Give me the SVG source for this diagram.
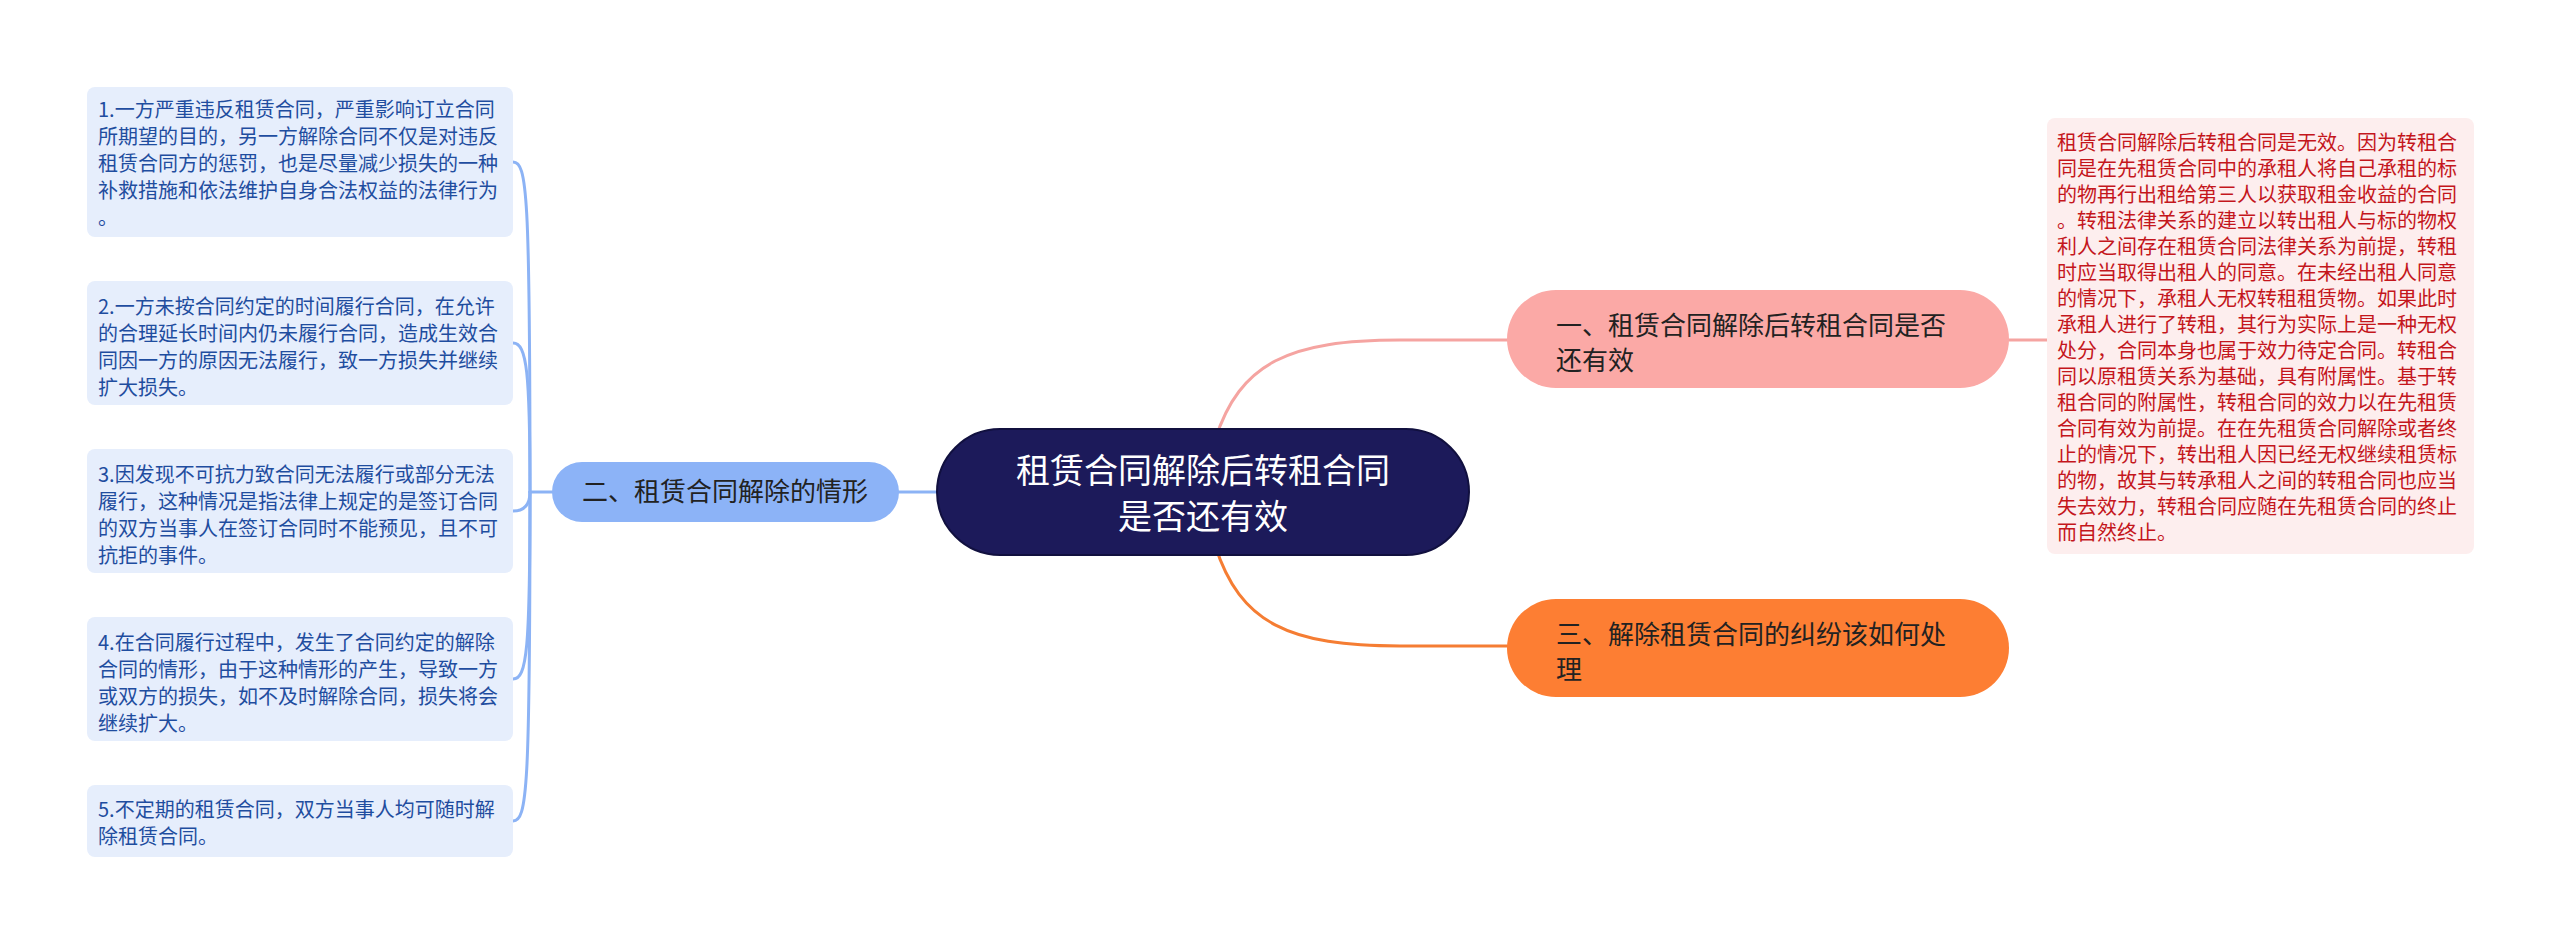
<svg xmlns="http://www.w3.org/2000/svg" width="2560" height="945" viewBox="0 0 2560 945">
<style>
text{font-family:"Noto Sans CJK SC","Noto Sans",sans-serif;}
.leaf rect{fill:#e6eefc;}
.leaf text{font-size:20px;fill:#1f4d9f;}
.detail rect{fill:#fdeeee;}
.detail text{font-size:20px;fill:#c4161c;}
.br text{font-size:26px;fill:#222;}
.root text{font-size:34px;fill:#fff;text-anchor:middle;}
.c{fill:none;stroke-width:3;stroke-linecap:round;}
.cb{stroke:#8cb3f5;}
.cp{stroke:#f5a4a1;}
.co{stroke:#f57d33;}
</style>
<rect width="2560" height="945" fill="#fff"/>
<g id="connectors">
<path class="c cb" d="M898 492 H936"/>
<path class="c cb" d="M530 492 H552"/>
<path class="c cb" d="M513 162 C527 162, 530 192, 530 492"/>
<path class="c cb" d="M513 343 C527 343, 530 373, 530 492"/>
<path class="c cb" d="M513 511 C527 511, 530 501, 530 492"/>
<path class="c cb" d="M513 679 C527 679, 530 649, 530 492"/>
<path class="c cb" d="M513 821 C527 821, 530 791, 530 492"/>
<path class="c cp" d="M1215 440 C1240 362, 1290 340, 1400 340 L1507 340"/>
<path class="c cp" d="M2009 340 H2047"/>
<path class="c co" d="M1215 545 C1240 624, 1290 646, 1400 646 L1507 646"/>
</g>
<g id="root" class="root">
<rect x="937" y="429" width="532" height="126" rx="63" fill="#1c1a5a" stroke="#11103f" stroke-width="2"/>
<text x="1203" y="483">租赁合同解除后转租合同</text>
<text x="1203" y="529">是否还有效</text>
</g>
<g id="n2" class="br">
<rect x="552" y="462" width="347" height="60" rx="30" fill="#8cb3f7"/>
<text x="582" y="501">二、租赁合同解除的情形</text>
</g>
<g id="n1" class="br">
<rect x="1507" y="290" width="502" height="98" rx="49" fill="#fba9a6"/>
<text x="1556" y="335">一、租赁合同解除后转租合同是否</text>
<text x="1556" y="370">还有效</text>
</g>
<g id="n3" class="br">
<rect x="1507" y="599" width="502" height="98" rx="49" fill="#fd7e33"/>
<text x="1556" y="644">三、解除租赁合同的纠纷该如何处</text>
<text x="1556" y="679">理</text>
</g>
<g id="l1" class="leaf">
<rect x="87" y="87" width="426" height="150" rx="8"/>
<text x="98" y="117">1.一方严重违反租赁合同，严重影响订立合同</text>
<text x="98" y="144">所期望的目的，另一方解除合同不仅是对违反</text>
<text x="98" y="171">租赁合同方的惩罚，也是尽量减少损失的一种</text>
<text x="98" y="198">补救措施和依法维护自身合法权益的法律行为</text>
<text x="98" y="225">。</text>
</g>
<g id="l2" class="leaf">
<rect x="87" y="281" width="426" height="124" rx="8"/>
<text x="98" y="314">2.一方未按合同约定的时间履行合同，在允许</text>
<text x="98" y="341">的合理延长时间内仍未履行合同，造成生效合</text>
<text x="98" y="368">同因一方的原因无法履行，致一方损失并继续</text>
<text x="98" y="395">扩大损失。</text>
</g>
<g id="l3" class="leaf">
<rect x="87" y="449" width="426" height="124" rx="8"/>
<text x="98" y="482">3.因发现不可抗力致合同无法履行或部分无法</text>
<text x="98" y="509">履行，这种情况是指法律上规定的是签订合同</text>
<text x="98" y="536">的双方当事人在签订合同时不能预见，且不可</text>
<text x="98" y="563">抗拒的事件。</text>
</g>
<g id="l4" class="leaf">
<rect x="87" y="617" width="426" height="124" rx="8"/>
<text x="98" y="650">4.在合同履行过程中，发生了合同约定的解除</text>
<text x="98" y="677">合同的情形，由于这种情形的产生，导致一方</text>
<text x="98" y="704">或双方的损失，如不及时解除合同，损失将会</text>
<text x="98" y="731">继续扩大。</text>
</g>
<g id="l5" class="leaf">
<rect x="87" y="785" width="426" height="72" rx="8"/>
<text x="98" y="817">5.不定期的租赁合同，双方当事人均可随时解</text>
<text x="98" y="844">除租赁合同。</text>
</g>
<g id="detail" class="detail">
<rect x="2047" y="118" width="427" height="436" rx="8"/>
<text x="2057" y="150">租赁合同解除后转租合同是无效。因为转租合</text>
<text x="2057" y="176">同是在先租赁合同中的承租人将自己承租的标</text>
<text x="2057" y="202">的物再行出租给第三人以获取租金收益的合同</text>
<text x="2057" y="228">。转租法律关系的建立以转出租人与标的物权</text>
<text x="2057" y="254">利人之间存在租赁合同法律关系为前提，转租</text>
<text x="2057" y="280">时应当取得出租人的同意。在未经出租人同意</text>
<text x="2057" y="306">的情况下，承租人无权转租租赁物。如果此时</text>
<text x="2057" y="332">承租人进行了转租，其行为实际上是一种无权</text>
<text x="2057" y="358">处分，合同本身也属于效力待定合同。转租合</text>
<text x="2057" y="384">同以原租赁关系为基础，具有附属性。基于转</text>
<text x="2057" y="410">租合同的附属性，转租合同的效力以在先租赁</text>
<text x="2057" y="436">合同有效为前提。在在先租赁合同解除或者终</text>
<text x="2057" y="462">止的情况下，转出租人因已经无权继续租赁标</text>
<text x="2057" y="488">的物，故其与转承租人之间的转租合同也应当</text>
<text x="2057" y="514">失去效力，转租合同应随在先租赁合同的终止</text>
<text x="2057" y="540">而自然终止。</text>
</g>
</svg>
